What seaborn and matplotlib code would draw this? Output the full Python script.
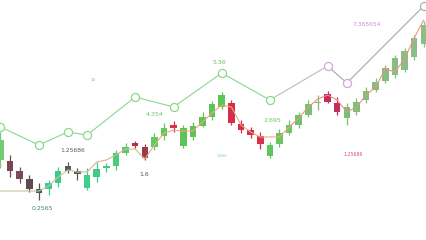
import matplotlib
matplotlib.use("Agg")
import matplotlib.pyplot as plt
import seaborn as sns
import pandas as pd

# ---- data (price units) ----
opens  = [80, 79, 69, 61, 47, 51, 57, 69, 69, 52, 63, 72, 74, 87, 97, 93, 93, 104, 115, 94,
          103, 114, 123, 133, 137, 116, 110, 104, 84, 96, 107, 115, 125, 137, 146, 137, 122, 128,
          140, 150, 159, 165, 170, 183, 196]
closes = [100, 69, 61, 51, 51, 57, 69, 74, 66, 65, 71, 74, 87, 93, 94, 82, 103, 112, 112, 112,
          114, 123, 136, 145, 117, 110, 105, 96, 95, 107, 115, 125, 136, 138, 138, 128, 133, 138,
          149, 158, 172, 182, 189, 202, 215]
highs  = [108, 85, 73, 65, 57, 60, 73, 78, 72, 72, 78, 77, 90, 97, 99, 96, 107, 117, 119, 115,
          118, 128, 139, 148, 140, 120, 113, 108, 98, 111, 120, 128, 140, 145, 149, 143, 137, 142,
          153, 162, 175, 185, 192, 205, 219]
lows   = [72, 63, 57, 48, 40, 45, 53, 67, 60, 50, 58, 68, 70, 85, 92, 80, 90, 100, 108, 92,
          100, 113, 120, 131, 115, 107, 102, 91, 82, 93, 105, 112, 123, 130, 137, 125, 115, 125,
          137, 148, 157, 162, 168, 180, 193]
moving_avg = [49, 49, 49, 49, 49, 54, 63, 70, 68, 68, 78, 80, 85, 91, 91, 81, 95, 107, 110, 109,
              109, 118, 127, 135, 133, 115, 108, 103, 103, 103, 113, 122, 133, 141, 145, 140, 128, 133,
              145, 153, 171, 168, 181, 202, 220]
pivot_idx = [0, 4, 7, 9, 14, 18, 23, 28, 34, 36, 44]
pivot_val = [113, 95, 108, 105, 143, 133, 167, 140, 174, 157, 234]

# ---- styles ----
candle_colors = [
    "#74cb72", "#7a4650", "#7a4a52", "#5f4b50", "#4c5854", "#3dcb8c", "#3dcb8c", "#5a5a5a",
    "#525a58", "#3ecf8c", "#3fcb86", "#46c880", "#4ccb7a", "#55c96e", "#b03048", "#9c3848",
    "#5ccc62", "#62ca5c", "#d8304c", "#5fc455", "#5fc455", "#5fc455", "#5cc45a", "#5cc45a",
    "#d62d48", "#d62d48", "#d42d4a", "#d6304c", "#5ec65a", "#66c660", "#6ec469", "#72c26c",
    "#76c070", "#88b878", "#c22e5a", "#c42f5a", "#78c074", "#7cc078", "#80bf7a", "#84bf7c",
    "#86be7e", "#88be80", "#8abd82", "#8cbd84", "#8ebd86",
]

sns.set_theme(style="white")
fig = plt.figure(figsize=(4.26, 2.4), dpi=100)
ax = fig.add_axes([0, 0, 1, 1])
fig.patch.set_facecolor("white")

df = pd.DataFrame(dict(i=range(len(opens)), open=opens, close=closes,
                       high=highs, low=lows, ma=moving_avg))
df["bottom"] = df[["open", "close"]].min(axis=1)
df["height"] = (df["close"] - df["open"]).abs().clip(lower=1.4)

ax.vlines(df["i"], df["low"], df["high"], colors=candle_colors, linewidth=0.9, zorder=2)
ax.bar(df["i"], df["height"], bottom=df["bottom"], width=0.68,
       color=candle_colors, linewidth=0, zorder=3)

# moving average, colour changing along the chart
ma_parts = [(0, 10, "#c9c0a4"), (9, 17, "#dcb48c"), (16, 31, "#f4a77a"), (30, 45, "#ef9088")]
for a, b, c in ma_parts:
    part = df.iloc[a:b]
    sns.lineplot(x=part["i"], y=part["ma"], ax=ax, color=c, linewidth=0.8,
                 sort=False, estimator=None, zorder=4)

# pivot line with circles
pv = pd.DataFrame(dict(i=pivot_idx, v=pivot_val))
line_parts = [(0, 8, "#8ad88f"), (7, 9, "#b4c4aa"), (8, 11, "#a8a8a4")]
for a, b, c in line_parts:
    part = pv.iloc[a:b]
    sns.lineplot(x=part["i"], y=part["v"], ax=ax, color=c, linewidth=0.8,
                 sort=False, estimator=None, zorder=5)

edge_groups = [(0, 8, "#8ad88f"), (8, 10, "#d3a6dc"), (10, 11, "#a8b8a8")]
for a, b, c in edge_groups:
    part = pv.iloc[a:b]
    sns.scatterplot(x=part["i"], y=part["v"], ax=ax, s=34, color="white",
                    edgecolor=c, linewidth=0.9, zorder=6)

# labels
lab = dict(ha="center", va="center", zorder=7)
ax.text(7.48, 90, "1.25686", color="#5a5a5a", fontsize=4.3, **lab)
ax.text(4.37, 31, "0.2565", color="#4d7f80", fontsize=4.5, **lab)
ax.text(14.97, 65, "1.6", color="#555555", fontsize=4.5, **lab)
ax.text(16.0, 125, "4.354", color="#6cc464", fontsize=4.5, **lab)
ax.text(22.77, 177, "5.36", color="#6cc464", fontsize=4.5, **lab)
ax.text(28.27, 120, "2.695", color="#6cc464", fontsize=4.5, **lab)
ax.text(38.05, 216, "7.365654", color="#c591d4", fontsize=4.3, **lab)
ax.text(36.7, 86, "1.25686", color="#e0506a", fontsize=3.3, **lab)
ax.text(9.67, 160, "1.6", color="#d06a80", fontsize=2.2, **lab)
ax.text(22.97, 84, "1.6666", color="#7dd47d", fontsize=2.1, **lab)

ax.set_xlim(-0.05, 44.23)
ax.set_ylim(0, 240)
ax.set_axis_off()

fig.savefig("out.png", dpi=100, facecolor="white")
